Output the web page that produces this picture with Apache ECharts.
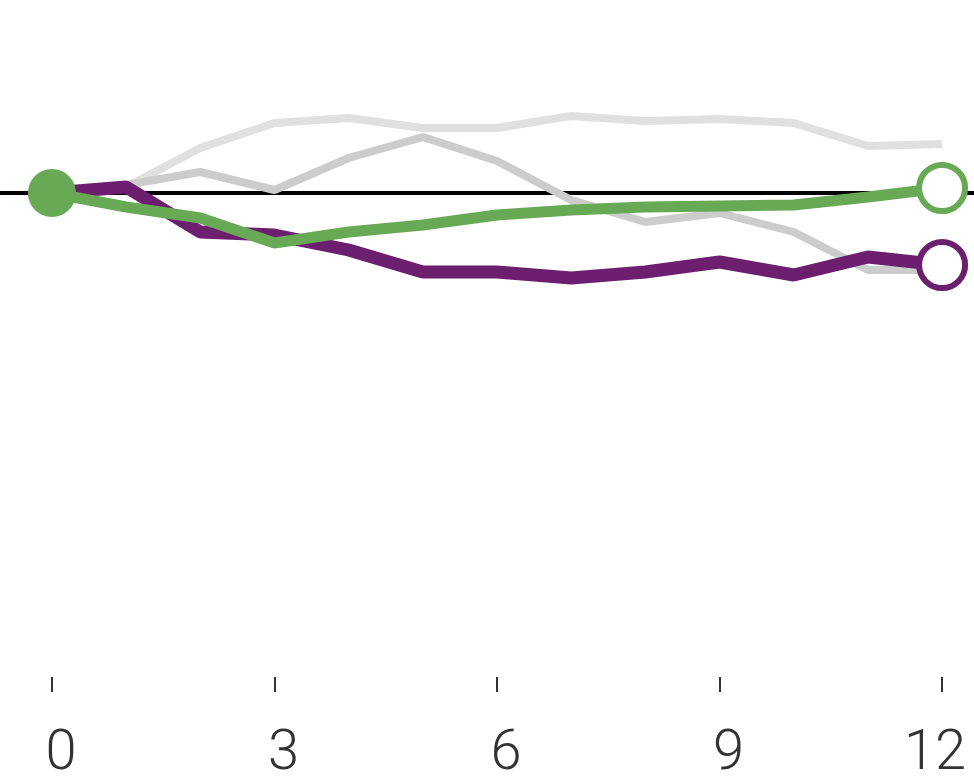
<!DOCTYPE html>
<html>
<head>
<meta charset="utf-8">
<script src="https://cdn.jsdelivr.net/npm/echarts@6/dist/echarts.min.js"></script>
<style>html,body{margin:0;padding:0;background:#fff}#c{width:974px;height:781px}</style>
</head>
<body>
<div id="c"></div>
<script>
const months = [0,1,2,3,4,5,6,7,8,9,10,11,12];
const tickValues = [0,3,6,9,12];
const lightGray = [0, 0.6, 4.5, 7.0, 7.5, 6.5, 6.5, 7.7, 7.2, 7.4, 7.0, 4.7, 4.9];
const midGray   = [0, 0.8, 2.1, 0.3, 3.5, 5.6, 3.2, -0.7, -2.9, -2.0, -3.9, -7.7, -7.7];
const purple    = [0, 0.6, -3.9, -4.2, -5.7, -7.9, -7.9, -8.5, -7.9, -6.9, -8.2, -6.4, -7.2];
const green     = [0, -1.4, -2.5, -5.0, -3.9, -3.2, -2.2, -1.7, -1.4, -1.3, -1.2, -0.4, 0.5];
const baseline  = [0, 0];
const xExtent   = [-0.7, 12.43];

const pts = arr => months.map((m,i)=>[m, arr[i]]);
const last = months.length - 1;
const lblStyle = {fontSize: 56, color: '#333', fontFamily: 'Roboto', fontWeight: 300};

const chart = echarts.init(document.getElementById('c'));
chart.setOption({
  animation: false,
  grid: {left: 0, right: 0, top: 73, bottom: 104, containLabel: false, outerBoundsMode: 'none'},
  xAxis: {
    type: 'value', min: xExtent[0], max: xExtent[1],
    axisLine: {show: false, onZero: false},
    splitLine: {show: false},
    axisTick: {show: true, customValues: tickValues, length: 15, lineStyle: {color: '#333', width: 2}},
    axisLabel: {show: true, customValues: tickValues, margin: 50,
      formatter: v => (v < 10 ? '{s|' : '{d|') + v + '}',
      rich: {
        s: Object.assign({padding: [0, 0, 0, 18]}, lblStyle),
        d: Object.assign({padding: [0, 14, 0, 0]}, lblStyle)
      }
    }
  },
  yAxis: {type: 'value', min: -48.4, max: 12, show: false, splitLine: {show: false}},
  series: [
    {type: 'line', data: xExtent.map((x,i)=>[x, baseline[i]]), symbol: 'none', silent: true,
      lineStyle: {color: '#000', width: 4}, z: 1},
    {type: 'line', data: pts(lightGray), symbol: 'none', lineStyle: {color: '#e0e0e0', width: 8}, z: 2},
    {type: 'line', data: pts(midGray), symbol: 'none', lineStyle: {color: '#cccccc', width: 8}, z: 3},
    {type: 'line', data: pts(purple), symbol: 'none', lineStyle: {color: '#6b1f6e', width: 13}, z: 4},
    {type: 'line', data: pts(green), symbol: 'none', lineStyle: {color: '#68a956', width: 11}, z: 5},
    {type: 'scatter', z: 6, symbolSize: 48,
      data: [{value: [months[0], green[0]], itemStyle: {color: '#68a956', opacity: 1}}]},
    {type: 'scatter', z: 6, symbolSize: 46,
      data: [
        {value: [months[last], purple[last]], itemStyle: {color: '#fff', borderColor: '#6b1f6e', borderWidth: 6, opacity: 1}},
        {value: [months[last], green[last]], itemStyle: {color: '#fff', borderColor: '#68a956', borderWidth: 6, opacity: 1}}
      ]}
  ]
});
</script>
</body>
</html>
